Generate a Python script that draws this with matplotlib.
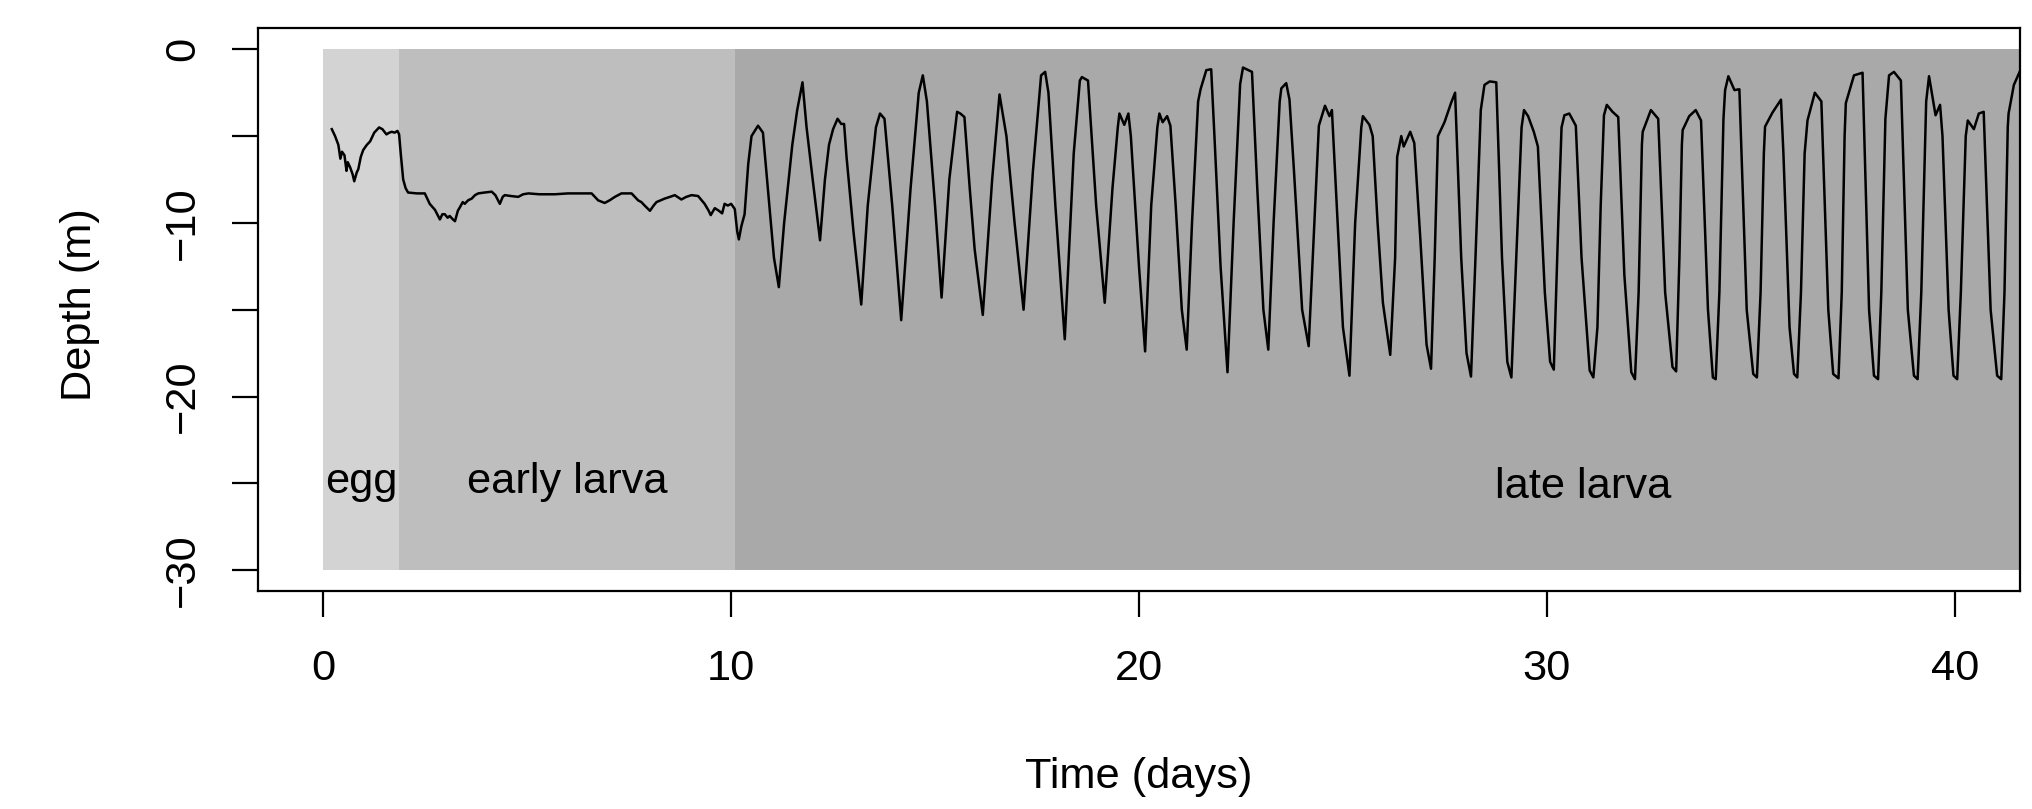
import matplotlib.pyplot as plt
from matplotlib.ticker import FixedLocator, FuncFormatter

plt.rcParams['font.family'] = ['Liberation Sans', 'DejaVu Sans']
plt.rcParams['font.size'] = 15.6

# life stages: start/end day and shade
stage_names = ["egg", "early larva", "late larva"]
stage_start = [0.0, 1.86, 10.1]
stage_end = [1.86, 10.1, 51.7]
stage_colors = ["#d3d3d3", "#bebebe", "#a9a9a9"]
stage_label_x = [0.93, 5.98, 30.9]
stage_label_y = [-24.9, -24.9, -25.2]

# depth track, egg + early larva (days, m)
early_t = [0.21, 0.29, 0.37, 0.42, 0.46, 0.52, 0.57, 0.60, 0.66, 0.72, 0.76, 0.82, 0.86, 0.92,
           0.98, 1.07, 1.15, 1.25, 1.37, 1.45, 1.55, 1.62, 1.68, 1.75, 1.82, 1.86, 1.90, 1.96,
           2.02, 2.08, 2.30, 2.49, 2.61, 2.74, 2.86, 2.92, 2.98, 3.05, 3.10, 3.18, 3.23, 3.30,
           3.35, 3.42, 3.47, 3.55, 3.64, 3.72, 3.80, 3.95, 4.13, 4.22, 4.33, 4.40, 4.45, 4.60,
           4.78, 4.90, 5.03, 5.30, 5.68, 6.00, 6.41, 6.58, 6.66, 6.74, 6.90, 7.02, 7.15, 7.31,
           7.56, 7.64, 7.72, 7.80, 7.88, 8.01, 8.10, 8.17, 8.37, 8.50, 8.62, 8.78, 8.90, 9.03,
           9.19, 9.35, 9.45, 9.50, 9.60, 9.70, 9.78, 9.84, 9.92, 10.00, 10.09, 10.15, 10.19,
           10.25, 10.33, 10.42, 10.50, 10.58, 10.66, 10.72, 10.78]
early_d = [-4.6, -5.0, -5.5, -6.3, -5.9, -6.1, -7.0, -6.5, -6.8, -7.2, -7.6, -7.1, -6.9, -6.2,
           -5.8, -5.5, -5.3, -4.8, -4.5, -4.6, -4.9, -4.8, -4.75, -4.8, -4.7, -4.9, -6.0, -7.5,
           -8.0, -8.25, -8.3, -8.3, -8.9, -9.25, -9.8, -9.5, -9.5, -9.7, -9.6, -9.8, -9.9, -9.3,
           -9.1, -8.8, -8.9, -8.7, -8.6, -8.4, -8.3, -8.25, -8.2, -8.4, -8.9, -8.5, -8.4, -8.45,
           -8.5, -8.35, -8.3, -8.35, -8.35, -8.3, -8.3, -8.3, -8.5, -8.7, -8.85, -8.7, -8.5, -8.3,
           -8.3, -8.5, -8.7, -8.8, -9.0, -9.3, -9.0, -8.8, -8.6, -8.5, -8.4, -8.65, -8.5, -8.4,
           -8.45, -8.9, -9.3, -9.55, -9.15, -9.3, -9.45, -8.9, -9.0, -8.9, -9.2, -10.5, -10.95,
           -10.2, -9.5, -6.6, -5.0, -4.7, -4.4, -4.6, -4.8]

# depth track, late larva diel migration (days, m)
late_t = [10.90, 11.05, 11.17, 11.30, 11.50, 11.62, 11.75, 11.85, 12.00, 12.18, 12.30, 12.40,
          12.50, 12.61, 12.70, 12.77, 12.83, 13.00, 13.19, 13.35, 13.55, 13.65, 13.76, 13.95,
          14.17, 14.40, 14.60, 14.70, 14.80, 15.00, 15.16, 15.35, 15.54, 15.62, 15.72, 15.85,
          15.97, 16.17, 16.40, 16.58, 16.75, 16.95, 17.17, 17.40, 17.60, 17.70, 17.78, 17.95,
          18.18, 18.40, 18.55, 18.60, 18.75, 18.95, 19.16, 19.35, 19.48, 19.52, 19.64, 19.74,
          19.80, 20.00, 20.15, 20.30, 20.45, 20.50, 20.58, 20.69, 20.77, 20.90, 21.05, 21.17,
          21.30, 21.45, 21.51, 21.65, 21.77, 21.85, 22.00, 22.17, 22.32, 22.48, 22.55, 22.77,
          22.90, 23.05, 23.17, 23.30, 23.45, 23.49, 23.61, 23.69, 23.80, 24.00, 24.16, 24.30,
          24.41, 24.56, 24.67, 24.73, 24.85, 25.00, 25.16, 25.30, 25.45, 25.49, 25.65, 25.73,
          25.85, 25.98, 26.16, 26.28, 26.33, 26.43, 26.49, 26.65, 26.75, 26.90, 27.05, 27.16,
          27.25, 27.33, 27.49, 27.65, 27.75, 27.90, 28.03, 28.14, 28.25, 28.38, 28.47, 28.60,
          28.76, 28.90, 29.03, 29.13, 29.25, 29.38, 29.44, 29.54, 29.68, 29.78, 29.95, 30.08,
          30.17, 30.28, 30.36, 30.43, 30.55, 30.71, 30.85, 31.05, 31.14, 31.24, 31.32, 31.40,
          31.47, 31.61, 31.75, 31.90, 32.07, 32.16, 32.25, 32.33, 32.35, 32.55, 32.73, 32.90,
          33.08, 33.17, 33.25, 33.31, 33.33, 33.49, 33.65, 33.78, 33.95, 34.07, 34.14, 34.23,
          34.33, 34.37, 34.45, 34.60, 34.72, 34.90, 35.06, 35.15, 35.24, 35.32, 35.35, 35.53,
          35.74, 35.80, 35.95, 36.06, 36.14, 36.23, 36.32, 36.39, 36.57, 36.73, 36.90, 37.02,
          37.15, 37.23, 37.30, 37.33, 37.53, 37.74, 37.90, 38.02, 38.12, 38.20, 38.30, 38.39,
          38.51, 38.68, 38.85, 39.00, 39.09, 39.18, 39.30, 39.37, 39.53, 39.64, 39.70, 39.85,
          39.97, 40.06, 40.15, 40.27, 40.32, 40.47, 40.59, 40.71, 40.88, 41.04, 41.14, 41.22,
          41.30, 41.32, 41.45, 41.61, 41.75]
late_d = [-8.0, -12.0, -13.7, -10.0, -5.5, -3.5, -1.9, -4.5, -7.5, -11.0, -7.5, -5.5,
          -4.6, -4.0, -4.3, -4.3, -6.2, -10.5, -14.7, -9.0, -4.5, -3.7, -4.0, -9.0,
          -15.6, -8.0, -2.5, -1.5, -3.0, -9.0, -14.3, -7.5, -3.6, -3.7, -3.9, -8.0,
          -11.5, -15.3, -7.5, -2.6, -5.0, -10.0, -15.0, -7.0, -1.5, -1.3, -2.5, -9.0,
          -16.7, -6.0, -1.8, -1.6, -1.8, -9.0, -14.6, -8.0, -4.5, -3.7, -4.35, -3.7,
          -5.0, -12.5, -17.4, -9.0, -4.5, -3.7, -4.2, -3.85, -4.4, -9.0, -15.0, -17.3,
          -10.0, -3.0, -2.3, -1.2, -1.15, -5.0, -12.5, -18.6, -10.0, -2.0, -1.05, -1.3,
          -8.0, -15.0, -17.3, -10.0, -3.0, -2.25, -1.95, -2.9, -7.0, -15.0, -17.1, -10.0,
          -4.4, -3.25, -3.85, -3.5, -9.0, -16.0, -18.8, -10.0, -4.5, -3.85, -4.35, -5.0,
          -10.0, -14.6, -17.6, -12.0, -6.2, -5.0, -5.6, -4.75, -5.4, -11.0, -17.0, -18.4,
          -12.0, -5.0, -4.2, -3.1, -2.5, -12.0, -17.5, -18.85, -12.0, -3.5, -2.05, -1.85,
          -1.9, -12.0, -18.0, -18.9, -12.0, -4.5, -3.5, -3.85, -4.75, -5.6, -14.0, -18.0,
          -18.45, -10.0, -4.5, -3.8, -3.7, -4.4, -12.0, -18.5, -18.9, -16.0, -9.0, -3.8,
          -3.2, -3.6, -3.9, -13.0, -18.6, -19.0, -14.0, -5.5, -4.75, -3.5, -4.0, -14.0,
          -18.3, -18.55, -12.0, -5.5, -4.65, -3.85, -3.5, -4.1, -15.0, -18.9, -19.0, -14.0,
          -4.0, -2.35, -1.55, -2.35, -2.3, -15.0, -18.7, -18.9, -14.0, -6.0, -4.45, -3.65,
          -2.9, -6.0, -16.0, -18.7, -18.9, -14.0, -6.0, -4.1, -2.5, -3.0, -15.0, -18.7,
          -18.95, -14.0, -5.0, -3.1, -1.5, -1.35, -15.0, -18.8, -19.0, -14.0, -4.0, -1.5,
          -1.3, -1.8, -15.0, -18.8, -19.0, -14.0, -3.0, -1.55, -3.8, -3.2, -5.0, -15.0,
          -18.8, -19.0, -14.0, -5.0, -4.1, -4.6, -3.7, -3.6, -15.0, -18.8, -19.0, -14.0,
          -4.5, -3.7, -2.05, -1.2, -1.0]

fig = plt.figure(figsize=(10.165, 4.045), dpi=200)
ax = fig.add_axes([0.1269, 0.2695, 0.8667, 0.6953])

for s, e, c in zip(stage_start, stage_end, stage_colors):
    ax.fill_between([s, e], -30, 0, color=c, linewidth=0, zorder=1)

ax.plot(early_t + late_t, early_d + late_d, color='black', linewidth=0.9, zorder=3)

for name, x, y in zip(stage_names, stage_label_x, stage_label_y):
    ax.text(x, y, name, ha='center', va='center', zorder=4)

ax.set_xlim(-1.6, 41.6)
ax.set_ylim(-31.2, 1.2)
ax.set_xticks([0, 10, 20, 30, 40])
ax.yaxis.set_major_locator(FixedLocator([-30, -25, -20, -15, -10, -5, 0]))
ax.yaxis.set_major_formatter(FuncFormatter(lambda v, p: f"{int(v)}".replace("-", "\u2212") if v % 10 == 0 else ""))
ax.tick_params(axis='both', length=9.4, width=0.8, labelsize=15.6)
ax.tick_params(axis='x', pad=11.5)
ax.tick_params(axis='y', pad=10.4)
for lab in ax.get_yticklabels():
    lab.set_rotation(90)
    lab.set_va('center')
for sp in ax.spines.values():
    sp.set_linewidth(0.8)

fig.text(1139 / 2033, 1 - 777 / 809, "Time (days)", ha='center', va='center')
fig.text(80 / 2033, 1 - 305 / 809, "Depth (m)", ha='center', va='center', rotation=90)

fig.savefig("out.png", dpi=200)
